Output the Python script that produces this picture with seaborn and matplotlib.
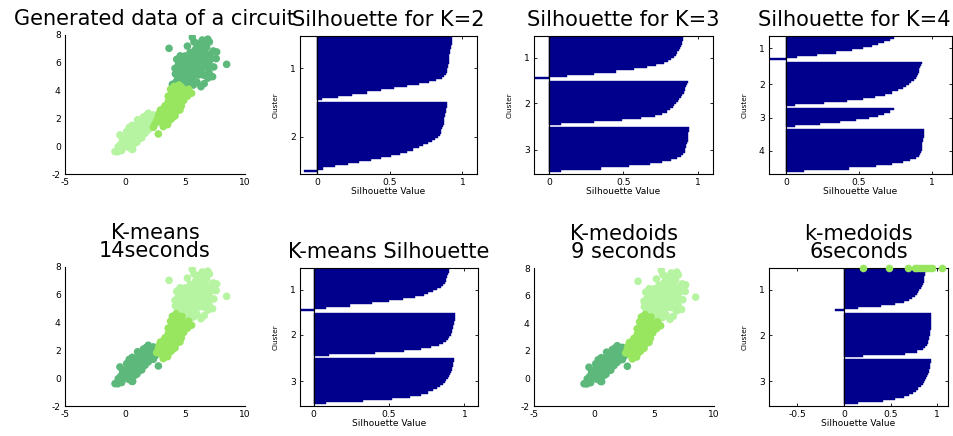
import matplotlib
matplotlib.use("Agg")
import matplotlib.pyplot as plt
import numpy as np
import pandas as pd
import seaborn as sns

sns.set_style("white")
plt.rcParams['font.family'] = ['DejaVu Sans']
plt.rcParams['axes.unicode_minus'] = False

# ---------------- data ----------------
# group A: light in generated data, dark in the clusterings
A_x = [1.94, 2.36, 1.53, 2.08, 1.11, 1.67, 2.22, 0.69, 1.39, 1.94, 0.14, 0.97, 1.67, -0.42, 0.42, 1.25,
       0.00, 0.83, -0.56, 0.28, 0.56, -0.83, -0.28, 1.20, 0.90, 1.50, 0.50, 0.70, 1.00, 0.30, 1.30, 1.80,
       1.60, 0.60, 0.20, -0.10, -0.60, 0.40, 1.05, 2.00, 0.80, 1.40, 0.35, 1.75, 1.15, 0.64, 2.25, -0.20,
       0.10, 0.50, 0.95, 1.35, 1.70, 2.10, 0.75, 0.25, 1.55, 1.00, 0.45, -0.35, 1.25, 1.85, 2.40, 0.05]
A_y = [2.37, 2.25, 2.09, 1.89, 1.65, 1.53, 1.53, 1.29, 1.17, 1.17, 1.05, 0.81, 0.93, 0.81, 0.57, 0.57,
       0.33, 0.21, -0.03, -0.07, -0.22, -0.39, -0.31, 1.40, 1.10, 1.80, 0.90, 0.50, 0.30, 0.30, 0.90, 2.00,
       1.30, 1.50, 0.60, 0.00, -0.40, 0.00, 1.90, 1.50, 0.70, 0.60, 1.35, 2.20, 1.20, -0.23, 1.85, 0.50,
       0.10, 0.35, 0.55, 1.00, 1.70, 2.20, 0.95, 0.80, 1.05, 1.35, 1.10, 0.15, 1.75, 1.35, 1.95, 0.60]
# group B: bright in all plots
B_x = [4.72, 4.31, 3.89, 5.14, 5.55, 4.44, 4.86, 4.03, 3.61, 4.58, 3.33, 4.17, 3.75, 3.06, 4.58, 2.78,
       3.47, 4.17, 3.19, 3.75, 3.19, 4.60, 4.20, 3.90, 3.50, 4.00, 3.30, 4.40, 3.60, 4.90, 5.20, 4.10,
       3.20, 3.90, 2.90, 3.40, 4.70, 3.00, 4.30, 3.75, 5.30, 2.95, 2.64, 3.55, 4.50, 3.80,
       3.45, 3.85, 4.25, 4.65, 3.25, 3.70, 4.35, 4.00, 3.05, 4.80, 3.55, 4.15, 2.85, 5.00, 3.90]
B_y = [4.24, 4.05, 3.81, 3.93, 3.81, 3.69, 3.57, 3.33, 3.21, 3.21, 2.90, 2.85, 2.61, 2.49, 2.61, 2.13,
       2.13, 2.18, 1.77, 1.89, 1.41, 3.95, 3.55, 3.10, 2.65, 2.40, 2.30, 2.90, 3.60, 3.30, 3.60, 4.30,
       2.70, 2.00, 1.90, 1.60, 2.90, 2.20, 3.30, 2.95, 4.10, 2.60, 1.84, 1.55, 4.40, 4.10,
       2.85, 2.35, 3.75, 3.50, 2.00, 3.30, 2.55, 3.70, 1.70, 3.95, 2.35, 3.05, 2.35, 3.75, 2.70]
# group B2: bright in generated data, dark in the clusterings
B2_x = [2.78, 2.36, 2.50]
B2_y = [0.88, 1.36, 1.60]
# group C: dark in generated data, light in the clusterings
C_x = [5.61, 6.44, 5.97, 6.50, 7.03, 3.67, 5.83, 6.25, 6.67, 7.36, 7.64, 5.00, 5.42, 4.31, 4.72, 5.14,
       5.55, 5.97, 6.39, 6.80, 7.20, 4.44, 4.17, 4.86, 5.28, 5.83, 6.25, 6.67, 7.40, 8.47, 4.58, 5.00,
       5.55, 6.11, 6.53, 7.00, 7.30, 4.86, 5.55, 6.33, 5.14, 6.90, 6.00, 5.70, 6.10, 6.00, 6.80, 5.30,
       4.90, 5.60, 6.40, 7.00, 6.20, 5.80, 4.40, 6.60, 5.30, 7.60, 6.90, 4.60,
       5.20, 5.50, 6.00, 6.50, 6.90, 5.10, 4.60, 5.90, 6.30, 5.75, 7.10, 6.35, 5.35, 4.75, 5.70, 4.20]
C_y = [7.83, 7.64, 7.40, 7.30, 7.50, 7.04, 6.92, 6.88, 6.70, 6.85, 6.78, 6.49, 6.73, 6.25, 6.08, 6.08,
       5.96, 6.20, 5.96, 6.20, 6.30, 5.84, 5.60, 5.48, 5.53, 5.48, 5.60, 5.72, 5.70, 5.89, 5.24, 5.12,
       5.24, 5.12, 5.12, 5.30, 5.00, 4.76, 4.76, 4.28, 4.52, 4.90, 4.60, 6.40, 6.60, 7.10, 7.10, 6.30,
       5.80, 5.70, 6.30, 6.00, 5.30, 5.10, 4.90, 4.50, 4.90, 6.30, 7.70, 6.50,
       7.20, 6.20, 5.85, 6.60, 5.60, 5.70, 5.60, 6.65, 7.25, 7.50, 6.60, 5.35, 5.00, 5.15, 4.40, 5.20]
# group C2: dark in generated data, bright in the clusterings
C2_x = [4.25, 4.75, 3.95]
C2_y = [4.63, 4.45, 4.45]

# silhouette values per cluster (top to bottom)
K2_c1 = [.93, .93, .925, .925, .92, .92, .915, .915, .91, .91, .91, .905, .905, .90, .90, .895, .89, .885,
         .875, .86, .82, .77, .70, .62, .53, .44, .34, .24, .14, .03]
K2_c2 = [.89, .89, .89, .885, .885, .88, .88, .875, .875, .87, .87, .865, .86, .855, .85, .845, .83, .81,
         .79, .76, .73, .70, .66, .62, .57, .51, .44, .37, .29, .21, .12, .04, -0.09]
K3_c1 = [.90, .90, .895, .89, .885, .88, .87, .86, .85, .84, .82, .80, .77, .72, .66, .57, .45, .30, .12, -0.10]
K3_c2 = [.93, .925, .92, .915, .91, .905, .895, .885, .875, .865, .85, .84, .83, .81, .79, .76, .71, .62,
         .49, .30, .08]
K3_c3 = [.94, .94, .935, .935, .93, .93, .93, .925, .92, .92, .915, .91, .90, .885, .86, .82, .76, .68,
         .54, .35, .08]
K4_c1 = [.74, .71, .67, .63, .59, .53, .45, .34, .21, .07, -0.12]
K4_c2 = [.93, .925, .92, .915, .91, .905, .90, .89, .875, .86, .845, .82, .80, .77, .73, .68, .61, .53,
         .42, .26, .06]
K4_c3 = [.74, .71, .67, .63, .57, .48, .37, .23, .06]
K4_c4 = [.95, .95, .945, .945, .94, .94, .935, .935, .93, .93, .925, .92, .91, .89, .85, .80, .73, .62,
         .43, .12]
KM_c1 = [.90, .895, .89, .885, .88, .875, .87, .86, .845, .82, .79, .76, .73, .67, .59, .50, .39, .24, .08, -0.09]
KM_c2 = [.94, .94, .935, .935, .93, .93, .925, .925, .92, .915, .91, .90, .89, .875, .86, .83, .78, .71,
         .60, .41, .10]
KM_c3 = [.93, .93, .925, .925, .92, .915, .91, .905, .895, .89, .88, .87, .855, .84, .82, .79, .76, .71,
         .64, .52, .33, .08]
KMD_c1 = [.88, .88, .875, .87, .865, .86, .855, .845, .835, .825, .81, .795, .78, .76, .73, .70, .64, .55,
          .40, .15, -0.10]
KMD_c2 = [.94, .94, .94, .935, .935, .935, .93, .93, .925, .925, .92, .915, .91, .905, .90, .89, .875, .85,
          .79, .66, .20]
KMD_c3 = [.93, .93, .925, .925, .92, .915, .91, .905, .895, .885, .87, .86, .845, .825, .80, .775, .745,
          .70, .64, .55, .42, .15]
KMD_dots_x = [0.20, 0.48, 0.69, 0.76, 0.79, 0.82, 0.85, 0.88, 0.91, 0.95, 1.05]

titles = ["Generated data of a circuit", "Silhouette for K=2", "Silhouette for K=3", "Silhouette for K=4",
          "K-means\n14seconds", "K-means Silhouette", "K-medoids\n9 seconds", "k-medoids\n6seconds"]

DARK = "#5cb97b"
MID = "#98e660"
LIGHT = "#b6f4a2"
NAVY = "#00008c"

# ---------------- figure ----------------
W, H = 954, 436
fig = plt.figure(figsize=(W / 100, H / 100), dpi=100)
fig.patch.set_facecolor("white")


def px_axes(l, t, r, b):
    ax = fig.add_axes([l / W, 1 - b / H, (r - l) / W, (b - t) / H])
    ax.set_facecolor("white")
    return ax, (r - l), (b - t)


TICK = dict(direction="in", length=2.5, width=0.6, labelsize=6.6, pad=3, colors="black")
TITLE = dict(fontsize=15, pad=7.5, linespacing=0.88, color="black")
DOT = 30


def scatter_panel(box, colors, title):
    ax, w, h = px_axes(*box)
    xs = C_x + C2_x + A_x + B2_x + B_x
    ys = C_y + C2_y + A_y + B2_y + B_y
    grp = (["C"] * len(C_x) + ["C2"] * len(C2_x) + ["A"] * len(A_x) + ["B2"] * len(B2_x) + ["B"] * len(B_x))
    df = pd.DataFrame({"x": xs, "y": ys, "g": grp})
    sns.scatterplot(data=df, x="x", y="y", hue="g", palette=colors, s=DOT, linewidth=0,
                    legend=False, ax=ax, alpha=1)
    ax.set_xlim(-5, 10)
    ax.set_ylim(-2, 8)
    ax.set_xticks([-5, 0, 5, 10])
    ax.set_yticks([-2, 0, 2, 4, 6, 8])
    ax.set_xlabel("")
    ax.set_ylabel("")
    for s in ["top", "right"]:
        ax.spines[s].set_visible(False)
    for s in ["left", "bottom"]:
        ax.spines[s].set_color("black")
        ax.spines[s].set_linewidth(0.8)
    ax.tick_params(**TICK)
    ax.set_title(title, **TITLE)
    return ax


def sil_panel(box, clusters, xlim, xt, xtl, top_m, bot_m, title, title_x=0.5):
    ax, w, h = px_axes(*box)
    vals, pos, centers = [], [], []
    p = 1
    for c in clusters:
        start = p
        for v in c:
            vals.append(v)
            pos.append(p)
            p += 1
        centers.append((start + p - 1) / 2)
        p += 1
    df = pd.DataFrame({"value": vals, "pos": pos})
    sns.barplot(data=df, x="value", y="pos", orient="h", native_scale=True, width=1,
                color=NAVY, saturation=1, errorbar=None, edgecolor=NAVY, linewidth=0.3, ax=ax)
    ax.axvline(0, color="black", lw=0.9, zorder=5)
    ax.set_xlim(*xlim)
    ax.set_ylim(pos[-1] + 0.5 + bot_m, 0.5 - top_m)
    ax.set_yticks(centers)
    ax.set_yticklabels([str(i + 1) for i in range(len(clusters))])
    ax.set_xticks(xt)
    ax.set_xticklabels(xtl)
    for s in ax.spines.values():
        s.set_visible(True)
        s.set_color("black")
        s.set_linewidth(0.8)
    ax.tick_params(top=True, right=True, left=True, bottom=True, **TICK)
    ax.set_xlabel("Silhouette Value", fontsize=6.5, color="black")
    ax.xaxis.set_label_coords(0.5, -13 / h)
    ax.set_ylabel("Cluster", fontsize=5.2, color="black")
    ax.yaxis.set_label_coords(-21 / w, 0.5)
    ax.set_title(title, x=title_x, **TITLE)
    return ax


gen_colors = {"A": LIGHT, "B": MID, "B2": MID, "C": DARK, "C2": DARK}
clu_colors = {"A": DARK, "B": MID, "B2": DARK, "C": LIGHT, "C2": MID}

scatter_panel((65, 35, 245, 174), gen_colors, titles[0])
sil_panel((300, 36, 477, 174), [K2_c1, K2_c2], (-0.12, 1.1), [0, 0.5, 1], ["0", "0.5", "1"], 0.3, 1.1, titles[1])
sil_panel((534, 36, 713, 174), [K3_c1, K3_c2, K3_c3], (-0.1, 1.1), [0, 0.5, 1], ["0", "0.5", "1"], 0.3, 1.1, titles[2])
sil_panel((769, 36, 952, 174), [K4_c1, K4_c2, K4_c3, K4_c4], (-0.12, 1.14), [0, 0.5, 1], ["0", "0.5", "1"],
          0.3, 1.1, titles[3], title_x=0.465)

scatter_panel((65, 267, 245, 406), clu_colors, titles[4])
sil_panel((300, 268, 478, 406), [KM_c1, KM_c2, KM_c3], (-0.09, 1.09), [0, 0.5, 1], ["0", "0.5", "1"], 0.6, 1.0, titles[5])
scatter_panel((534, 268, 714, 406), clu_colors, titles[6])
ax8 = sil_panel((769, 268, 948, 406), [KMD_c1, KMD_c2, KMD_c3], (-0.806, 1.118), [-0.5, 0, 0.5, 1],
                ["-0.5", "0", "0.5", "1"], 0.1, 1.0, titles[7])
top_y = ax8.get_ylim()[1]
sns.scatterplot(x=KMD_dots_x, y=[top_y] * len(KMD_dots_x), color=MID, s=DOT, linewidth=0,
                clip_on=False, zorder=10, ax=ax8, legend=False)
ax8.set_ylim(ax8.get_ylim())

fig.savefig("out.png", dpi=100, facecolor="white")
